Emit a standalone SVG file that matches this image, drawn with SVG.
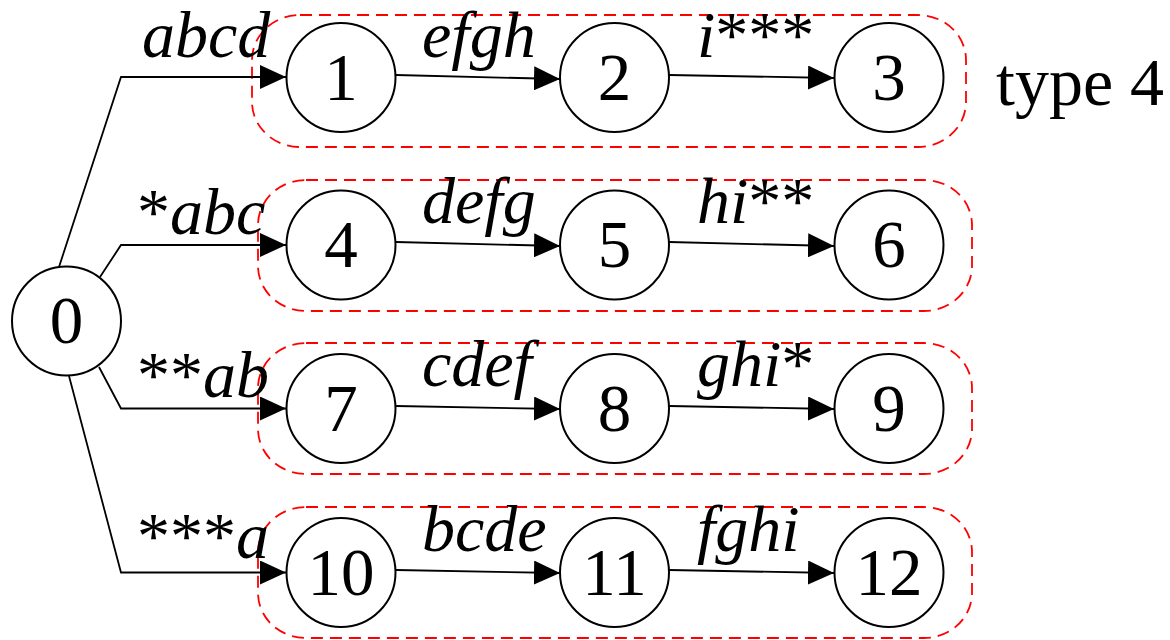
<svg xmlns="http://www.w3.org/2000/svg" width="1170" height="640" viewBox="0 0 1170 640">
<style>
.node{fill:#fff;stroke:#000;stroke-width:2}
.num{font-family:"Liberation Serif","Times New Roman",serif;font-size:67px;text-anchor:middle;fill:#000}
.lbl{font-family:"Liberation Serif","Times New Roman",serif;font-size:66px;font-style:italic;fill:#000}
.ast{font-style:normal}
.grp{fill:none;stroke:#ff0000;stroke-width:1.8;stroke-dasharray:12 7}
.edge{fill:none;stroke:#000;stroke-width:1.8;marker-end:url(#arr)}
</style>
<defs>
<marker id="arr" markerUnits="userSpaceOnUse" markerWidth="26" markerHeight="24" refX="26" refY="12" orient="auto" viewBox="0 0 26 24">
<path d="M0,0 L26,12 L0,24 z" fill="#000"/>
</marker>
</defs>
<rect width="1170" height="640" fill="#fff"/>
<g id="groups">
<rect class="grp" x="252" y="15" width="714" height="132" rx="48" ry="45"/>
<rect class="grp" x="258" y="180" width="714" height="131" rx="48" ry="45"/>
<rect class="grp" x="258" y="343" width="714" height="131" rx="48" ry="45"/>
<rect class="grp" x="258" y="507" width="714" height="131" rx="48" ry="45"/>
</g>
<g id="connectors">
<polyline class="edge" points="59,267 121,77 286,77"/>
<polyline class="edge" points="100,277 121,245 286,245"/>
<polyline class="edge" points="99,367 121,408.5 286,408.5"/>
<polyline class="edge" points="69,376 121,572.5 286,572.5"/>
<line class="edge" x1="396" y1="75" x2="560" y2="79"/>
<line class="edge" x1="669" y1="75" x2="834" y2="78"/>
<line class="edge" x1="396" y1="242" x2="560" y2="246"/>
<line class="edge" x1="669" y1="242" x2="834" y2="246"/>
<line class="edge" x1="396" y1="406" x2="560" y2="409"/>
<line class="edge" x1="669" y1="406" x2="834" y2="409"/>
<line class="edge" x1="396" y1="570" x2="560" y2="573"/>
<line class="edge" x1="669" y1="570" x2="834" y2="573"/>
</g>
<g id="labels">
<text class="lbl" x="142" y="57">abcd</text>
<text class="lbl" x="137" y="234"><tspan class="ast">*</tspan>abc</text>
<text class="lbl" x="137" y="397"><tspan class="ast">**</tspan>ab</text>
<text class="lbl" x="137" y="558"><tspan class="ast">***</tspan>a</text>
<text class="lbl" x="422" y="57">efgh</text>
<text class="lbl" x="422" y="223">defg</text>
<text class="lbl" x="422" y="386">cdef</text>
<text class="lbl" x="422" y="551">bcde</text>
<text class="lbl" x="697" y="57">i<tspan class="ast">***</tspan></text>
<text class="lbl" x="697" y="223">hi<tspan class="ast">**</tspan></text>
<text class="lbl" x="697" y="386">ghi<tspan class="ast">*</tspan></text>
<text class="lbl" x="697" y="551">fghi</text>
<text class="num" x="996" y="105" style="text-anchor:start;font-size:68px">type 4</text>
</g>
<g id="n0"><circle class="node" cx="66.5" cy="321" r="54.5"/><text class="num" x="66.5" y="343">0</text></g>
<g id="n1"><circle class="node" cx="341" cy="77.5" r="54.5"/><text class="num" x="341" y="99.5">1</text></g>
<g id="n2"><circle class="node" cx="614.5" cy="77.5" r="54.5"/><text class="num" x="614.5" y="99.5">2</text></g>
<g id="n3"><circle class="node" cx="889" cy="77.5" r="54.5"/><text class="num" x="889" y="99.5">3</text></g>
<g id="n4"><circle class="node" cx="341" cy="245" r="54.5"/><text class="num" x="341" y="267">4</text></g>
<g id="n5"><circle class="node" cx="614.5" cy="245" r="54.5"/><text class="num" x="614.5" y="267">5</text></g>
<g id="n6"><circle class="node" cx="889" cy="245" r="54.5"/><text class="num" x="889" y="267">6</text></g>
<g id="n7"><circle class="node" cx="341" cy="408.5" r="54.5"/><text class="num" x="341" y="430.5">7</text></g>
<g id="n8"><circle class="node" cx="614.5" cy="408.5" r="54.5"/><text class="num" x="614.5" y="430.5">8</text></g>
<g id="n9"><circle class="node" cx="889" cy="408.5" r="54.5"/><text class="num" x="889" y="430.5">9</text></g>
<g id="n10"><circle class="node" cx="341" cy="572.5" r="54.5"/><text class="num" x="341" y="594.5">10</text></g>
<g id="n11"><circle class="node" cx="614.5" cy="572.5" r="54.5"/><text class="num" x="614.5" y="594.5">11</text></g>
<g id="n12"><circle class="node" cx="889" cy="572.5" r="54.5"/><text class="num" x="889" y="594.5">12</text></g>
</svg>
